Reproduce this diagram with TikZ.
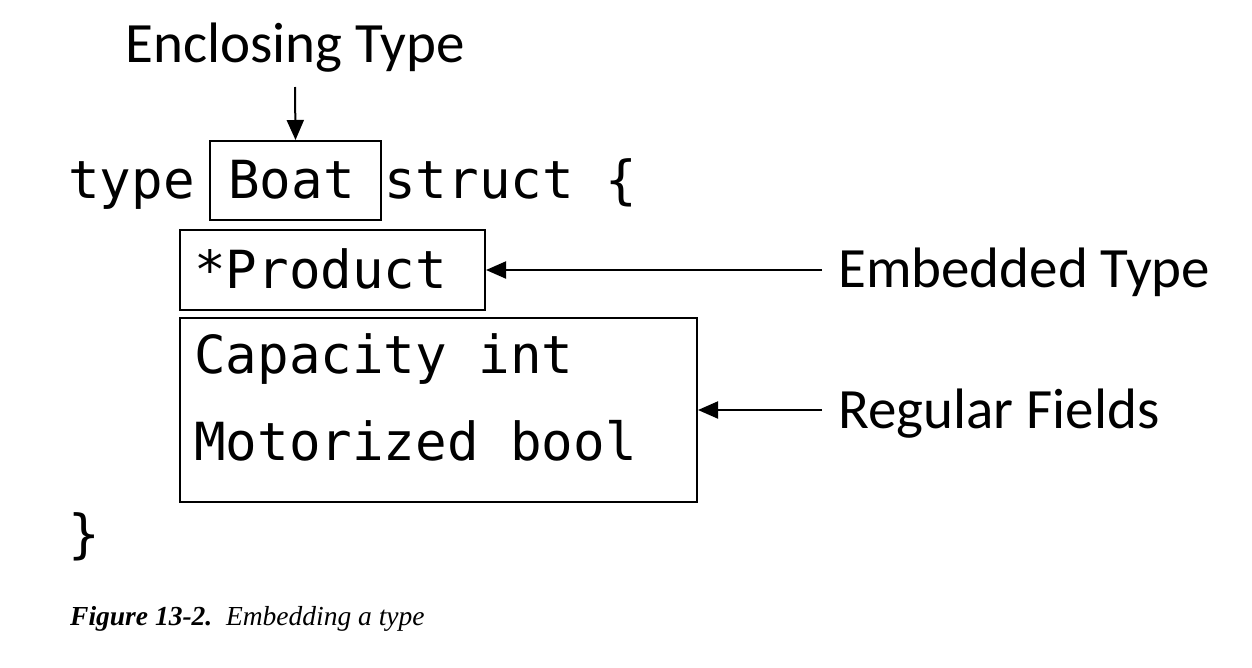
\documentclass[tikz,border=0pt]{standalone}
\usepackage{fontspec}
\setmainfont{Liberation Serif}
\newfontfamily\codefont{DejaVu Sans Mono}
\newfontfamily\labelfont{Carlito}
\usetikzlibrary{arrows.meta}
\tikzset{
  code/.style={anchor=base west, inner sep=0pt, font=\codefont\fontsize{52.5}{60}\selectfont},
  lbl/.style={inner sep=0pt, font=\labelfont\fontsize{57}{64}\selectfont},
  box/.style={draw, line width=2pt, anchor=north west, inner sep=0pt},
  arr/.style={line width=2pt, -{Triangle[length=20pt,width=17pt]}},
}
\begin{document}
\begin{tikzpicture}[x=1pt,y=-1pt]
\useasboundingbox (0,0) rectangle (1252,667);
% labels
\node[lbl, anchor=base] (enc) at (295,62) {Enclosing Type};
\node[lbl, anchor=base west] (emb) at (838,287) {Embedded Type};
\node[lbl, anchor=base west] (reg) at (838,428) {Regular Fields};
% boxes
\node[box, minimum width=171pt, minimum height=79pt] (boat) at (209,140) {};
\node[box, minimum width=305pt, minimum height=80pt] (prod) at (179,229) {};
\node[box, minimum width=517pt, minimum height=184pt] (fields) at (179,317) {};
% code
\node[code] (t1) at (68,198) {type};
\node[code] (t2) at (228,198) {Boat};
\node[code] (t3) at (384,198) {struct \{};
\node[code] (t4) at (194,288) {*Product};
\node[code] (t5) at (194,373) {Capacity int};
\node[code] (t6) at (194,460) {Motorized bool};
\node[code] (t7) at (68,552) {\}};
% arrows
\coordinate (encstart) at (295,87);
\draw[arr] (encstart) -- (boat.north);
\draw[arr] ([xshift=-16pt]emb.west |- prod.east) -- (prod.east);
\draw[arr] ([xshift=-16pt]reg.west |- fields.east) -- (fields.east);
% caption
\node[anchor=base west, inner sep=0pt, font=\fontsize{27.5}{32}\selectfont] (cap) at (70,625) {\textbf{\textit{Figure 13-2.}}\ \ \textit{Embedding a type}};
\end{tikzpicture}
\end{document}
